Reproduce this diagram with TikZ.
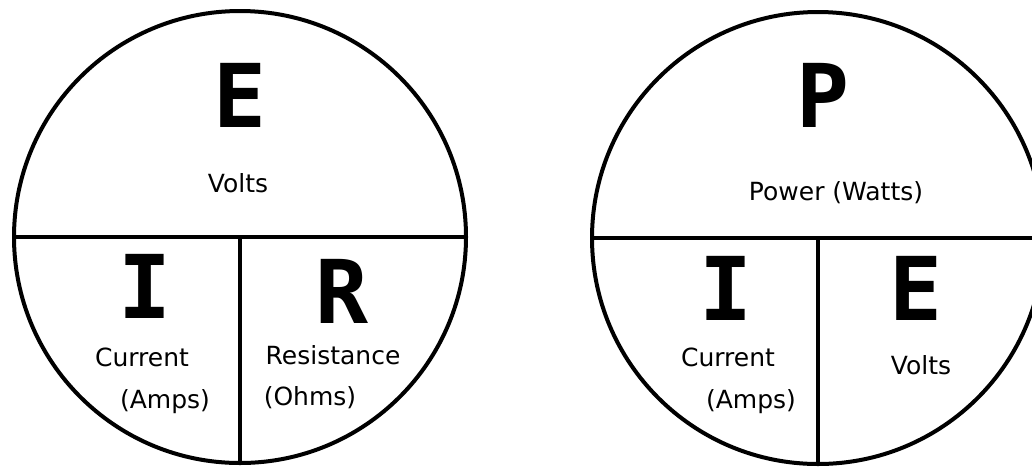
\documentclass[tikz,border=0pt]{standalone}
\usepackage{fontspec}
\setmainfont{DejaVu Sans}
\newfontfamily\letterfont{DejaVu Sans Mono}
\begin{document}
\begin{tikzpicture}[x=1pt, y=-1pt, wheel/.style={circle, draw, line width=4pt, minimum size=452pt, inner sep=0pt}, split/.style={line width=4pt}, sym/.style={font=\letterfont\bfseries\fontsize{88}{88}\selectfont, inner sep=0pt}, unit/.style={font=\fontsize{25}{30}\selectfont, align=center, inner sep=0pt}]
\useasboundingbox (0,0) rectangle (1032,467);
% Ohm's law wheel
\node[wheel] (ohm) at (240,237) {};
\draw[split] (ohm.west) -- (ohm.east);
\draw[split] (ohm.center) -- (ohm.south);
\node[sym] (e1) at (240,95) {E};
\node[unit] (volts1) at (238,183) {Volts};
\node[sym] (i1) at (145,286) {I};
\node[sym] (r1) at (342,291) {R};
\node[unit] (cur1) at (142,357) {Current};
\node[unit] (amps1) at (165,402) {(Amps)};
\node[unit] (res1) at (333,355) {Resistance};
\node[unit] (ohms1) at (310,398) {(Ohms)};
% power wheel
\node[wheel] (pow) at (818,238) {};
\draw[split] (pow.west) -- (pow.east);
\draw[split] (pow.center) -- (pow.south);
\node[sym] (p2) at (823,95) {P};
\node[unit] (watts2) at (836,193) {Power (Watts)};
\node[sym] (i2) at (726,288) {I};
\node[sym] (e2) at (916,288) {E};
\node[unit] (cur2) at (728,357) {Current};
\node[unit] (amps2) at (751,402) {(Amps)};
\node[unit] (volts2) at (921,365) {Volts};
\end{tikzpicture}
\end{document}
